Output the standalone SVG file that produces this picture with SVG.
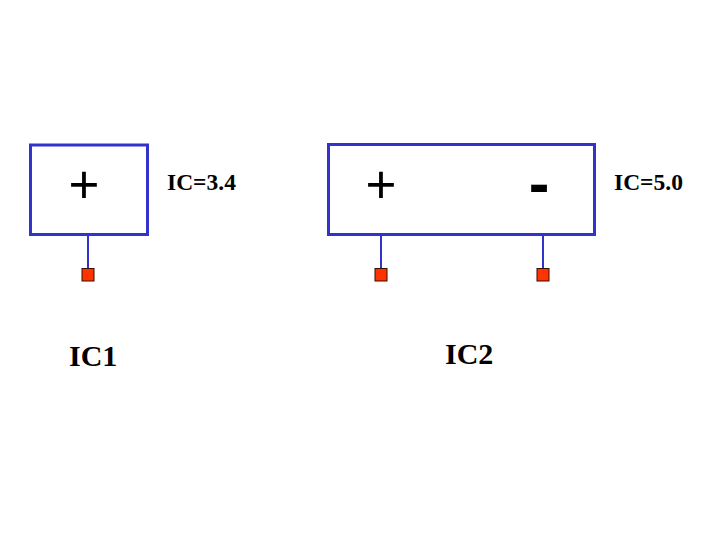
<svg xmlns="http://www.w3.org/2000/svg" width="720" height="540" viewBox="0 0 720 540">
<style>
.box{fill:#fff;stroke:#3333CC;stroke-width:3}
.lead{stroke:#3333CC;stroke-width:2}
.pin{fill:#FF3300;stroke:#331100;stroke-width:1}
.sign{font-family:"Liberation Sans",Arial,sans-serif;font-size:53px;fill:#000;text-anchor:middle}
.minus{font-weight:bold;font-size:62px}
.ic{font-family:"Liberation Serif","Times New Roman",serif;font-weight:bold;font-size:23.5px;fill:#000}
.name{font-family:"Liberation Serif","Times New Roman",serif;font-weight:bold;font-size:30px;fill:#000}
</style>
<rect width="720" height="540" fill="#fff"/>
<g id="connectors">
<line class="lead" x1="88" y1="235" x2="88" y2="268"/>
<line class="lead" x1="381" y1="235" x2="381" y2="268"/>
<line class="lead" x1="543" y1="235" x2="543" y2="268"/>
</g>
<g id="IC1">
<rect class="box" x="30.5" y="145" width="117" height="89.5"/>
<text class="sign" x="84" y="203">+</text>
<rect class="pin" x="82" y="268.5" width="12" height="12.5"/>
<text class="ic" x="167" y="189.5">IC=3.4</text>
<text class="name" x="69" y="366">IC1</text>
</g>
<g id="IC2">
<rect class="box" x="328.5" y="144.5" width="266" height="90"/>
<text class="sign" x="381" y="203">+</text>
<text class="sign minus" x="539" y="204">-</text>
<rect class="pin" x="375" y="268.5" width="12" height="12.5"/>
<rect class="pin" x="537" y="268.5" width="12" height="12.5"/>
<text class="ic" x="614" y="189.5">IC=5.0</text>
<text class="name" x="445" y="364">IC2</text>
</g>
</svg>
